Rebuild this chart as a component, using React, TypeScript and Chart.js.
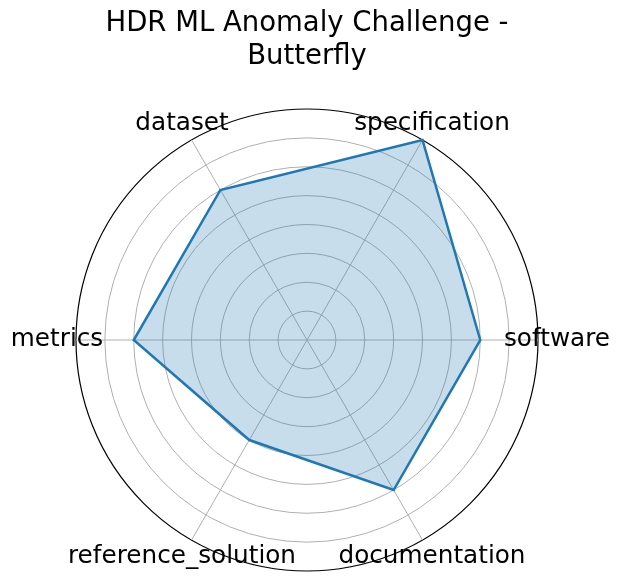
import React, { useEffect, useRef } from 'react';
import Chart from 'chart.js/auto';

// categories in clockwise order starting from the right (software)
const categories = ['software', 'documentation', 'reference_solution', 'metrics', 'dataset', 'specification'];
const scores = [3, 3, 2, 3, 3, 4];
const rMin = 0;
const rMax = 4;
const rStep = 0.5;
const titleLines = ['HDR ML Anomaly Challenge -', 'Butterfly'];

const FONT = '"DejaVu Sans", sans-serif';

// matplotlib-style labels: centered just outside the outer ring
const centeredLabels = {
  id: 'centeredLabels',
  afterDatasetsDraw(chart: any) {
    const scale = chart.scales.r;
    const ctx = chart.ctx;
    ctx.save();
    ctx.font = `24.7px ${FONT}`;
    ctx.fillStyle = '#000';
    ctx.textAlign = 'center';
    ctx.textBaseline = 'middle';
    categories.forEach((label, i) => {
      const p = scale.getPointPosition(i, scale.drawingArea + 19);
      ctx.fillText(label, p.x, p.y);
    });
    ctx.restore();
  },
};

const App: React.FC = () => {
  const canvasRef = useRef<HTMLCanvasElement>(null);

  useEffect(() => {
    document.body.style.margin = '0';
    let chart: Chart | null = null;
    const ctx = canvasRef.current?.getContext('2d');
    if (ctx) {
      chart = new Chart(ctx, {
        type: 'radar',
        data: {
          labels: categories,
          datasets: [
            {
              data: scores,
              borderColor: '#1f77b4',
              backgroundColor: 'rgba(31, 119, 180, 0.25)',
              borderWidth: 2.5,
              fill: true,
              pointRadius: 0,
              tension: 0,
            },
          ],
        },
        options: {
          responsive: false,
          animation: false,
          layout: { padding: { left: 76, right: 83, top: 0, bottom: 10 } },
          plugins: {
            legend: { display: false },
            tooltip: { enabled: false },
            title: {
              display: true,
              text: titleLines,
              color: '#000',
              font: { family: FONT, size: 27.5, weight: 'normal', lineHeight: 1.2 },
              padding: { top: 7, bottom: 36 },
            },
          },
          scales: {
            r: {
              min: rMin,
              max: rMax,
              startAngle: 90,
              ticks: { display: false, stepSize: rStep },
              pointLabels: { display: false },
              grid: {
                circular: true,
                lineWidth: (c: any) => (c.tick && c.tick.value === rMax ? 1.2 : 1),
                color: (c: any) => (c.tick && c.tick.value === rMax ? '#000' : '#b0b0b0'),
              },
              angleLines: { color: '#b0b0b0', lineWidth: 1 },
            },
          },
        },
        plugins: [centeredLabels],
      });
    }
    return () => {
      if (chart) chart.destroy();
    };
  }, []);

  return (
    <div style={{ width: 621, height: 581, background: '#fff' }}>
      <canvas ref={canvasRef} width={621} height={581}></canvas>
    </div>
  );
};

export default App;
